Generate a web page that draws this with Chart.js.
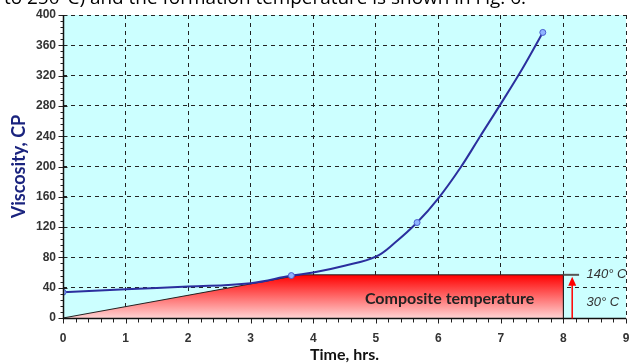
<!DOCTYPE html>
<html>
<head>
<meta charset="utf-8">
<script src="https://cdn.jsdelivr.net/npm/chart.js@4"></script>
<style>
html,body{margin:0;padding:0;background:#fff;}
#wrap{width:631px;height:364px;position:relative;}
</style>
</head>
<body>
<div id="wrap"><canvas id="c" width="631" height="364"></canvas></div>
<script>
// Viscosity curve
const viscX = [0, 1, 2, 3, 3.65, 4, 4.5, 5, 5.3, 5.66, 6, 6.35, 6.67, 7, 7.35, 7.67];
const viscY = [34, 38, 41.5, 46, 56, 60, 69, 81, 99, 126, 158, 198, 240, 283, 330, 377];
const viscMarkers = [0, 3.65, 5.66, 7.67];
// Composite temperature profile
const tempX = [0, 3.8, 8, 8];
const tempY = [0, 57, 57, 0];
// ticks
const xTicks = [0, 1, 2, 3, 4, 5, 6, 7, 8, 9];
const yTicks = [0, 40, 80, 120, 160, 200, 240, 280, 320, 360, 400];
const headerText = "to 250°C) and the formation temperature is shown in Fig. 6.";
const compositeLabel = "Composite temperature";
const hotLabel = "140° C";
const coldLabel = "30° C";

const viscData = viscX.map((x, i) => ({x: x, y: viscY[i]}));
const tempData = tempX.map((x, i) => ({x: x, y: tempY[i]}));
const radii = viscX.map(x => viscMarkers.includes(x) ? 3 : 0);

function gradFill(ctx) {
  const ch = ctx.chart;
  const a = ch.chartArea;
  if (!a) return 'rgba(255,0,0,0.8)';
  const ys = ch.scales.y;
  const g = ch.ctx.createLinearGradient(0, ys.getPixelForValue(57), 0, ys.getPixelForValue(0));
  g.addColorStop(0, '#ff0000');
  g.addColorStop(1, '#ffd2d2');
  return g;
}

const bgPlugin = {
  id: 'bg',
  beforeDraw(chart) {
    const {ctx, chartArea: a} = chart;
    ctx.save();
    ctx.fillStyle = '#ccffff';
    ctx.fillRect(a.left, a.top, a.right - a.left, a.bottom - a.top);
    ctx.restore();
  }
};

const minorTicks = {
  id: 'minor',
  afterDraw(chart) {
    const {ctx, scales: {x, y}} = chart;
    ctx.save();
    ctx.strokeStyle = '#222';
    ctx.lineWidth = 1;
    const lx = Math.round(x.getPixelForValue(0)) + 0.5;
    for (let v = 0; v <= 400; v += 8) {
      const py = Math.round(y.getPixelForValue(v)) + 0.5;
      const major = v % 40 === 0;
      ctx.beginPath();
      ctx.moveTo(lx - (major ? 5 : 3), py);
      ctx.lineTo(lx + (major ? 4 : 0), py);
      ctx.stroke();
    }
    const by = Math.round(y.getPixelForValue(0)) + 0.5;
    for (let i = 0; i <= 45; i++) {
      const v = i * 0.2;
      const px = Math.round(x.getPixelForValue(v)) + 0.5;
      const major = i % 5 === 0;
      ctx.beginPath();
      ctx.moveTo(px, by);
      ctx.lineTo(px, by + (major ? 5 : 4));
      ctx.stroke();
    }
    ctx.lineWidth = 1.5;
    ctx.strokeStyle = '#111';
    ctx.beginPath();
    ctx.moveTo(lx, y.getPixelForValue(400));
    ctx.lineTo(lx, by);
    ctx.lineTo(x.getPixelForValue(9), by);
    ctx.stroke();

    // composite label
    ctx.fillStyle = '#222';
    ctx.font = 'bold 16px Lato, "Open Sans", sans-serif';
    ctx.textAlign = 'center';
    ctx.textBaseline = 'middle';
    ctx.fillText(compositeLabel, x.getPixelForValue(6.18), y.getPixelForValue(25));

    // gray level line and red arrow
    const topY = y.getPixelForValue(57);
    ctx.strokeStyle = '#555';
    ctx.lineWidth = 2;
    ctx.beginPath();
    ctx.moveTo(x.getPixelForValue(8), topY);
    ctx.lineTo(x.getPixelForValue(8.25), topY);
    ctx.stroke();
    const ax = x.getPixelForValue(8.14);
    ctx.strokeStyle = '#ff0000';
    ctx.fillStyle = '#ff0000';
    ctx.lineWidth = 1.5;
    ctx.beginPath();
    ctx.moveTo(ax, by);
    ctx.lineTo(ax, topY + 6);
    ctx.stroke();
    ctx.beginPath();
    ctx.moveTo(ax, topY + 2);
    ctx.lineTo(ax - 4, topY + 11);
    ctx.lineTo(ax + 4, topY + 11);
    ctx.closePath();
    ctx.fill();

    // temperature labels
    ctx.fillStyle = '#333';
    ctx.font = 'italic 13px "Liberation Sans", Arial, sans-serif';
    ctx.textAlign = 'left';
    ctx.fillText(hotLabel, x.getPixelForValue(8.37), y.getPixelForValue(58));
    ctx.fillText(coldLabel, x.getPixelForValue(8.37), y.getPixelForValue(21));

    // cropped header
    ctx.fillStyle = '#000';
    ctx.font = '19px "Open Sans", sans-serif';
    ctx.textBaseline = 'alphabetic';
    ctx.textAlign = 'left';
    const w = ctx.measureText(headerText).width;
    ctx.save();
    ctx.translate(4, 4);
    ctx.scale(522 / w, 1);
    ctx.fillText(headerText, 0, 0);
    ctx.restore();
    ctx.restore();
  }
};

new Chart(document.getElementById('c'), {
  type: 'scatter',
  data: {
    datasets: [
      {
        label: 'Viscosity',
        data: viscData,
        showLine: true,
        borderColor: '#2b2f9e',
        borderWidth: 2,
        tension: 0.4,
        pointRadius: radii,
        pointBackgroundColor: '#8fb3ff',
        pointBorderColor: '#4a5fd0',
        pointBorderWidth: 1,
        fill: false,
        order: 1
      },
      {
        label: 'Composite temperature',
        data: tempData,
        showLine: true,
        borderColor: '#222',
        borderWidth: 1,
        tension: 0,
        pointRadius: 0,
        fill: 'origin',
        backgroundColor: gradFill,
        order: 2
      }
    ]
  },
  options: {
    responsive: false,
    animation: false,
    layout: {padding: {left: 0, right: 2, top: 15, bottom: 0}},
    plugins: {legend: {display: false}, tooltip: {enabled: false}},
    scales: {
      x: {
        type: 'linear', min: 0, max: 9,
        afterBuildTicks(s) { s.ticks = xTicks.map(v => ({value: v})); },
        afterFit(s) { s.height = 46; s.paddingRight = 0; s.paddingLeft = 0; },
        grid: {
          color: (c) => (c.tick && c.tick.value === 0) ? 'rgba(0,0,0,0)' : '#222',
          lineWidth: 1,
          drawTicks: false
        },
        border: {display: false, dash: [4, 4]},
        ticks: {
          padding: 13,
          color: '#333',
          font: {family: '"Liberation Sans", Arial, sans-serif', weight: 'bold', size: 12}
        },
        title: {
          display: true, text: 'Time, hrs.', color: '#111',
          font: {family: 'Lato, "Open Sans", sans-serif', weight: 'bold', size: 16},
          padding: {top: 0, bottom: 0}
        }
      },
      y: {
        type: 'linear', min: 0, max: 400,
        afterBuildTicks(s) { s.ticks = yTicks.map(v => ({value: v})); },
        afterFit(s) { s.width = 63; s.paddingTop = 0; s.paddingBottom = 0; },
        grid: {
          color: (c) => (c.tick && c.tick.value === 0) ? 'rgba(0,0,0,0)' : '#222',
          lineWidth: 1,
          drawTicks: false
        },
        border: {display: false, dash: [4, 4]},
        ticks: {
          padding: 7,
          color: '#333',
          font: {family: '"Liberation Sans", Arial, sans-serif', weight: 'bold', size: 12}
        },
        title: {
          display: true, text: 'Viscosity, CP', color: '#1a237e',
          font: {family: 'Lato, "Open Sans", sans-serif', weight: 'bold', size: 18},
          padding: {top: 8, bottom: 4}
        }
      }
    }
  },
  plugins: [bgPlugin, minorTicks]
});
</script>
</body>
</html>
